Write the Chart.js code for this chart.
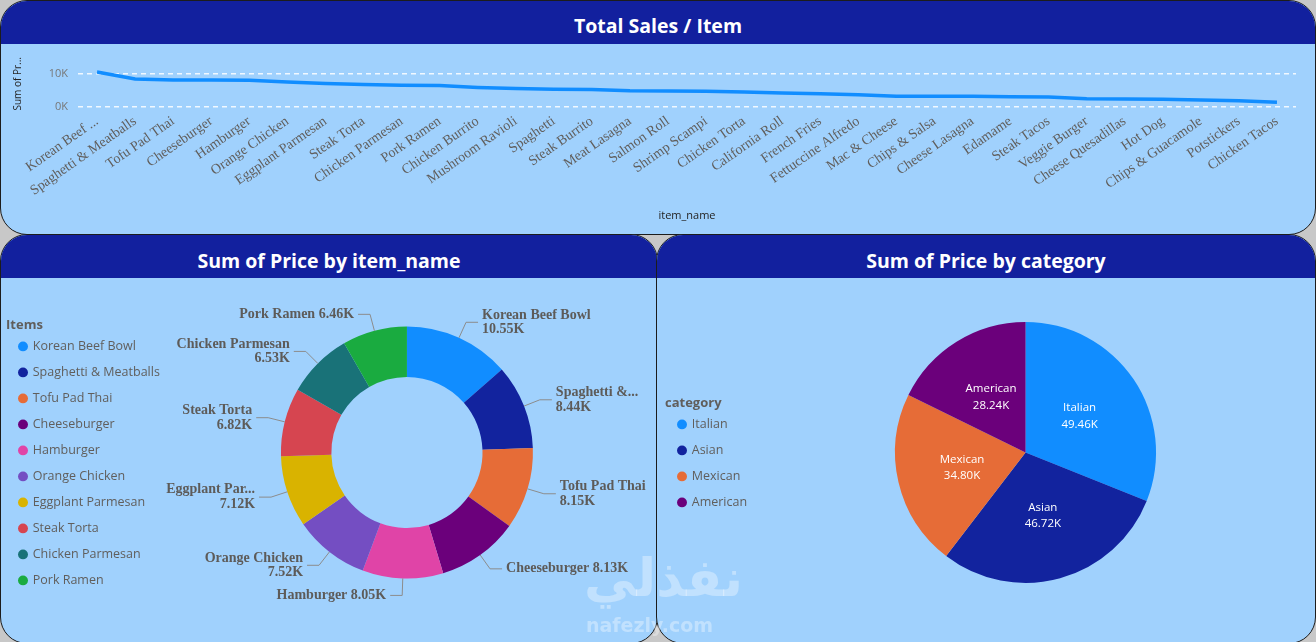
<!DOCTYPE html>
<html>
<head>
<meta charset="utf-8">
<title>Sales dashboard</title>
<script src="https://cdn.jsdelivr.net/npm/chart.js@4.4.1/dist/chart.umd.min.js"></script>
<style>
  html, body { margin: 0; padding: 0; }
  body { width: 1316px; height: 642px; background: #c8c8c8; position: relative; overflow: hidden; font-family: "Open Sans", sans-serif; }
  .panel { position: absolute; background: #a0d1fd; border: 1.5px solid #1c1c1c; border-radius: 27px; overflow: hidden; box-sizing: border-box; }
  .head { position: absolute; left: 0; right: 0; top: 0; height: 43px; background: #12209e; }
  .ttl { position: absolute; left: 0; right: 0; text-align: center; color: #fff; font-weight: 700; font-size: 19.5px; line-height: 26px; }
  canvas { position: absolute; }
  .mark { position: absolute; color: rgba(255,255,255,0.35); font-family: "DejaVu Sans", sans-serif; font-weight: bold; }
</style>
</head>
<body>

<div class="panel" style="left:0;top:0;width:1316px;height:235px;">
  <div class="head"><div class="ttl" style="top:12px;">Total Sales / Item</div></div>
</div>
<div class="panel" style="left:0;top:234px;width:658px;height:410px;">
  <div class="head"><div class="ttl" style="top:13px;">Sum of Price by item_name</div></div>
</div>
<div class="panel" style="left:656px;top:234px;width:660px;height:410px;">
  <div class="head"><div class="ttl" style="top:13px;">Sum of Price by category</div></div>
</div>

<canvas id="salesLine" width="1316" height="190" style="left:0;top:44px;"></canvas>
<canvas id="itemDonut" width="656" height="364" style="left:0;top:278px;"></canvas>
<canvas id="categoryPie" width="659" height="364" style="left:657px;top:278px;"></canvas>

<div class="mark" style="left:584px;top:548px;font-size:52px;">نفذلي</div>
<div class="mark" style="left:586px;top:614px;font-size:19px;">nafezly.com</div>

<script>
// Dữ liệu: tên món và tổng doanh thu
const items = [
  'Korean Beef Bowl', 'Spaghetti & Meatballs', 'Tofu Pad Thai', 'Cheeseburger', 'Hamburger',
  'Orange Chicken', 'Eggplant Parmesan', 'Steak Torta', 'Chicken Parmesan', 'Pork Ramen',
  'Chicken Burrito', 'Mushroom Ravioli', 'Spaghetti', 'Steak Burrito', 'Meat Lasagna',
  'Salmon Roll', 'Shrimp Scampi', 'Chicken Torta', 'California Roll', 'French Fries',
  'Fettuccine Alfredo', 'Mac & Cheese', 'Chips & Salsa', 'Cheese Lasagna', 'Edamame',
  'Steak Tacos', 'Veggie Burger', 'Cheese Quesadillas', 'Hot Dog', 'Chips & Guacamole',
  'Potstickers', 'Chicken Tacos'
];
const itemSales = [
  10550, 8440, 8150, 8130, 8050, 7520, 7120, 6820, 6530, 6460,
  5890, 5560, 5320, 5290, 4900, 4840, 4770, 4530, 4240, 4000,
  3700, 3240, 3230, 3210, 3100, 2990, 2500, 2450, 2310, 2130,
  1850, 1470
];
const yTickValues = [0, 10000];

// top 10 món cho biểu đồ donut
const donutItems = items.slice(0, 10);
const donutSales = itemSales.slice(0, 10);

const categories = ['Italian', 'Asian', 'Mexican', 'American'];
const categorySales = [49460, 46720, 34800, 28240];

const palette = ['#118dff', '#12239e', '#e66c37', '#6b007b', '#e044a7',
                 '#744ec2', '#d9b300', '#d64550', '#197278', '#1aab40'];

const fmtK = v => (v / 1000).toFixed(2) + 'K';

function fitText(ctx, text, room) {
  if (ctx.measureText(text).width <= room) return text;
  let t = text;
  while (t.length > 1 && ctx.measureText(t + '...').width > room) t = t.slice(0, -1);
  return t.trimEnd() + '...';
}

// Nhãn bên ngoài donut có đường dẫn
const donutLabelPlugin = {
  id: 'donutLabels',
  afterDatasetsDraw(chart) {
    const ctx = chart.ctx;
    const meta = chart.getDatasetMeta(0);
    const minX = chart.legend.right - 5;
    const maxX = chart.width - 2;
    ctx.save();
    ctx.font = 'bold 14px "Liberation Serif", serif';
    ctx.fillStyle = '#5d5b59';
    ctx.strokeStyle = '#8c8c8c';
    ctx.lineWidth = 1;
    ctx.textBaseline = 'middle';
    meta.data.forEach((arc, i) => {
      const p = arc.getProps(['x', 'y', 'startAngle', 'endAngle', 'outerRadius'], true);
      const mid = (p.startAngle + p.endAngle) / 2;
      const cos = Math.cos(mid), sin = Math.sin(mid);
      const right = cos >= 0;
      const x0 = p.x + cos * p.outerRadius, y0 = p.y + sin * p.outerRadius;
      const x1 = p.x + cos * (p.outerRadius + 17), y1 = p.y + sin * (p.outerRadius + 17);
      const x2 = x1 + (right ? 12 : -12);
      const tx = x2 + (right ? 4 : -4);
      ctx.beginPath();
      ctx.moveTo(x0, y0); ctx.lineTo(x1, y1); ctx.lineTo(x2, y1);
      ctx.stroke();
      const avail = right ? maxX - tx : tx - minX;
      const name = chart.data.labels[i];
      const val = fmtK(chart.data.datasets[0].data[i]);
      let lines = [name + ' ' + val];
      if (ctx.measureText(lines[0]).width > Math.min(avail, 130)) {
        lines = [fitText(ctx, name, avail), val];
      }
      ctx.textAlign = right ? 'left' : 'right';
      lines.forEach((t, k) => ctx.fillText(t, tx, y1 + (k - (lines.length - 1) / 2) * 14.5));
    });
    ctx.restore();
  }
};

// Nhãn bên trong pie
const pieLabelPlugin = {
  id: 'pieLabels',
  afterDatasetsDraw(chart) {
    const ctx = chart.ctx;
    const meta = chart.getDatasetMeta(0);
    ctx.save();
    ctx.font = '11.5px "Open Sans", sans-serif';
    ctx.fillStyle = '#ffffff';
    ctx.textAlign = 'center';
    ctx.textBaseline = 'middle';
    meta.data.forEach((arc, i) => {
      const p = arc.getProps(['x', 'y', 'startAngle', 'endAngle', 'outerRadius'], true);
      const mid = (p.startAngle + p.endAngle) / 2;
      const cx = p.x + Math.cos(mid) * p.outerRadius * 0.5;
      const cy = p.y + Math.sin(mid) * p.outerRadius * 0.5;
      ctx.fillText(chart.data.labels[i], cx, cy - 8);
      ctx.fillText(fmtK(chart.data.datasets[0].data[i]), cx, cy + 8.5);
    });
    ctx.restore();
  }
};

const legendOpts = (title) => ({
  position: 'left',
  title: {
    display: true, text: title, position: 'start', color: '#605e5c',
    font: { family: '"Open Sans", sans-serif', size: 13, weight: 'bold', lineHeight: 0.6 },
    padding: { top: 14, bottom: 0 }
  },
  labels: {
    usePointStyle: true, pointStyle: 'circle', boxWidth: 7, boxHeight: 7, padding: 13.5,
    color: '#605e5c', font: { family: '"Open Sans", sans-serif', size: 12.5 }
  }
});

// Biểu đồ đường
new Chart(document.getElementById('salesLine'), {
  type: 'line',
  data: {
    labels: items,
    datasets: [{
      data: itemSales,
      borderColor: '#118dff',
      borderWidth: 3.5,
      pointRadius: 0,
      tension: 0,
      fill: false
    }]
  },
  options: {
    responsive: false,
    animation: false,
    layout: { padding: { left: 12, right: 20, top: 11, bottom: 0 } },
    plugins: { legend: { display: false }, tooltip: { enabled: false } },
    scales: {
      x: {
        offset: true,
        grid: { display: false, drawTicks: false },
        border: { display: false },
        ticks: {
          autoSkip: false, minRotation: 35, maxRotation: 35, padding: 6,
          color: '#605e5c',
          font: { family: '"Liberation Serif", serif', size: 14 },
          callback: function(v, i) {
            const t = this.getLabelForValue(v);
            return i === 0 ? t.slice(0, 11) + ' ...' : t;
          }
        },
        title: {
          display: true, text: 'item_name', color: '#252423',
          font: { family: '"Open Sans", sans-serif', size: 11 },
          padding: { top: 0, bottom: 12 }
        },
        afterFit: s => { s.height = 127; }
      },
      y: {
        min: 0,
        max: 14000,
        afterBuildTicks: s => { s.ticks = yTickValues.map(v => ({ value: v })); },
        grid: { color: 'rgba(255,255,255,0.85)', lineWidth: 1.5, drawTicks: false },
        border: { display: false, dash: [5, 4] },
        ticks: {
          padding: 10, color: '#777777',
          font: { family: '"Open Sans", sans-serif', size: 11 },
          callback: v => (v / 1000) + 'K'
        },
        title: {
          display: true, text: 'Sum of Pr...', color: '#252423',
          font: { family: '"Open Sans", sans-serif', size: 10 },
          padding: 0
        },
        afterFit: s => { s.width = 66; }
      }
    }
  }
});

// Donut theo món
new Chart(document.getElementById('itemDonut'), {
  type: 'doughnut',
  data: {
    labels: donutItems,
    datasets: [{ data: donutSales, backgroundColor: palette, borderWidth: 0 }]
  },
  options: {
    responsive: false,
    animation: false,
    radius: 126,
    cutout: '60%',
    layout: { padding: { left: 6, right: 12, top: 10, bottom: 25 } },
    plugins: { tooltip: { enabled: false }, legend: legendOpts('Items') }
  },
  plugins: [donutLabelPlugin]
});

// Pie theo loại
new Chart(document.getElementById('categoryPie'), {
  type: 'pie',
  data: {
    labels: categories,
    datasets: [{ data: categorySales, backgroundColor: palette.slice(0, 4), borderWidth: 0 }]
  },
  options: {
    responsive: false,
    animation: false,
    radius: 130.5,
    layout: { padding: { left: 8, right: 22, top: 10, bottom: 25 } },
    plugins: { tooltip: { enabled: false }, legend: legendOpts('category') }
  },
  plugins: [pieLabelPlugin]
});
</script>
</body>
</html>
